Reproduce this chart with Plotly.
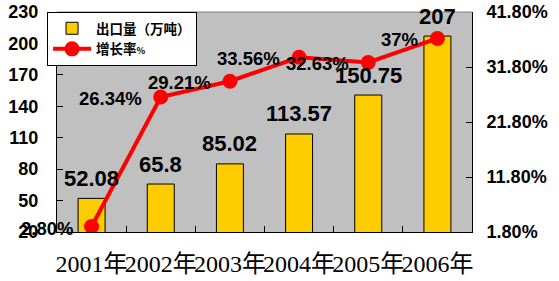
import plotly.graph_objects as go

years = ["2001年", "2002年", "2003年", "2004年", "2005年", "2006年"]
export_volume = [52.08, 65.8, 85.02, 113.57, 150.75, 207]
growth_rate = [2.80, 26.34, 29.21, 33.56, 32.63, 37.0]
growth_labels = ["2.80%", "26.34%", "29.21%", "33.56%", "32.63%", "37%"]
left_ticks = [20, 50, 80, 110, 140, 170, 200, 230]
right_ticks = [1.8, 11.8, 21.8, 31.8, 41.8]
right_tick_labels = ["1.80%", "11.80%", "21.80%", "31.80%", "41.80%"]

SANS = "Liberation Sans, Arial, sans-serif"
CJK = "Noto Sans CJK SC, sans-serif"
SERIF = "Liberation Serif, Noto Sans CJK SC, serif"

fig = go.Figure()
fig.add_trace(go.Bar(
    x=years, y=export_volume, name="出口量（万吨）",
    marker=dict(color="#FFCC00", line=dict(color="black", width=1)),
    yaxis="y",
))
fig.add_trace(go.Scatter(
    x=years, y=growth_rate, name="增长率<span style='font-size:9px'>%</span>",
    mode="lines+markers",
    line=dict(color="#FF0000", width=4),
    marker=dict(color="#FF0000", size=15),
    yaxis="y2",
))

annotations = []
for cat, v in zip(years, export_volume):
    annotations.append(dict(
        x=cat, y=v, xref="x", yref="y", text=f"{v:g}", showarrow=False,
        xanchor="center", yanchor="middle", yshift=20,
        font=dict(family=SANS, size=22, color="black", weight="bold"),
    ))
for cat, v, lab in zip(years, growth_rate, growth_labels):
    annotations.append(dict(
        x=cat, y=v, xref="x", yref="y2", text=lab, showarrow=False,
        xanchor="right", yanchor="middle", xshift=-17, yshift=-1.5,
        font=dict(family=SANS, size=18.5, color="black", weight="bold"),
    ))

fig.update_layout(
    width=559, height=281,
    margin=dict(l=57, r=87, t=12, b=49, pad=0, autoexpand=False),
    paper_bgcolor="white", plot_bgcolor="#C0C0C0",
    bargap=0.61,
    showlegend=True,
    legend=dict(
        x=-0.024, y=1.0, xanchor="left", yanchor="top",
        bgcolor="white", bordercolor="black", borderwidth=1,
        font=dict(family=CJK, size=13.5, color="black", weight="bold"),
        itemwidth=38, tracegroupgap=0, traceorder="normal",
    ),
    xaxis=dict(
        type="category", range=[-0.5, len(years) - 0.5],
        showline=True, linecolor="black", linewidth=1,
        ticks="inside", tickson="boundaries", ticklen=6, tickcolor="black",
        tickfont=dict(family=SERIF, size=24, color="black"),
        tickangle=0, automargin=False,
        showgrid=False, zeroline=False, ticklabelstandoff=10,
    ),
    yaxis=dict(
        range=[20, 230], tickmode="array", tickvals=left_ticks,
        showline=True, linecolor="black", linewidth=1,
        ticks="inside", ticklen=6, tickcolor="black",
        tickfont=dict(family=SANS, size=18, color="black", weight="bold"),
        automargin=False,
        showgrid=False, zeroline=False, ticklabelstandoff=14,
    ),
    yaxis2=dict(
        range=[1.8, 41.8], tickmode="array", tickvals=right_ticks,
        ticktext=right_tick_labels,
        overlaying="y", side="right",
        showline=True, linecolor="black", linewidth=1,
        ticks="inside", ticklen=6, tickcolor="black",
        tickfont=dict(family=SANS, size=18, color="black", weight="bold"),
        automargin=False,
        showgrid=False, zeroline=False, ticklabelstandoff=10,
    ),
    annotations=annotations,
    shapes=[dict(type="line", xref="paper", yref="paper", x0=0, x1=1, y0=1, y1=1,
                 line=dict(color="#808080", width=1))],
)

fig.write_html("out.html")
